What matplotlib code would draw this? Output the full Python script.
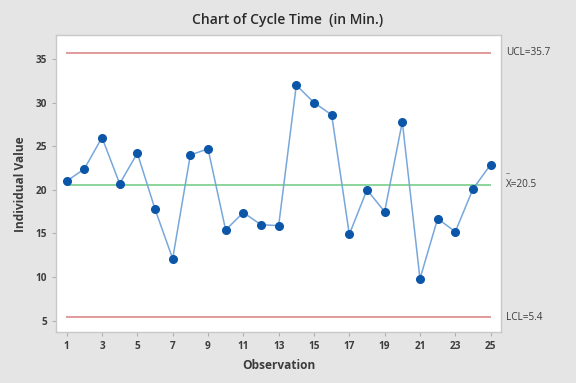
import numpy as np
import matplotlib.pyplot as plt
from matplotlib.transforms import blended_transform_factory

"DATA"
observation = np.arange(1, 26)
cycle_time = [21.0, 22.4, 26.0, 20.7, 24.2, 17.8, 12.1, 24.0, 24.7, 15.4,
              17.4, 16.0, 15.9, 32.0, 30.0, 28.6, 14.9, 20.0, 17.5, 27.8,
              9.8, 16.7, 15.2, 20.1, 22.9]
ucl = 35.7
mean = 20.5
lcl = 5.4
x_ticks = list(range(1, 26, 2))
y_ticks = [5, 10, 15, 20, 25, 30, 35]

plt.rcParams['font.family'] = ['Open Sans', 'DejaVu Sans']

bg = '#e5e5e5'
txt = '#3c3c3c'

fig = plt.figure(figsize=(5.76, 3.83), dpi=100, facecolor=bg)
ax = fig.add_axes([0.0972, 0.1324, 0.773, 0.7755])
ax.set_facecolor('white')

ax.axhline(ucl, xmin=0.025, xmax=0.975, color='#e29a9a', lw=1.4)
ax.axhline(lcl, xmin=0.025, xmax=0.975, color='#e29a9a', lw=1.4)
ax.axhline(mean, xmin=0.025, xmax=0.975, color='#8cd49c', lw=1.4)

ax.plot(observation, cycle_time, '-', color='#78a7db', lw=1.1, zorder=3)
ax.plot(observation, cycle_time, 'o', color='#0b56a8', ms=5.5, zorder=4)

ax.set_xlim(0.395, 25.6)
ax.set_ylim(3.67, 37.72)
ax.set_xticks(x_ticks)
ax.set_yticks(y_ticks)
ax.tick_params(axis='both', colors='#b0b0b0', labelcolor=txt, labelsize=7.2,
               length=3, width=0.8, direction='out')
for lab in ax.get_xticklabels() + ax.get_yticklabels():
    lab.set_fontweight('bold')

for side in ['top', 'right', 'left', 'bottom']:
    ax.spines[side].set_color('#c8c8c8')
    ax.spines[side].set_linewidth(1.0)

tr = blended_transform_factory(ax.transAxes, ax.transData)
ax.text(1.01, ucl, 'UCL=35.7', transform=tr, fontsize=7.2, color=txt, va='center')
ax.text(1.01, lcl, 'LCL=5.4', transform=tr, fontsize=7.2, color=txt, va='center')
ax.text(1.01, mean + 0.1, 'X=20.5', transform=tr, fontsize=7.2, color=txt, va='center')
ax.text(1.011, mean + 1.4, '–', transform=tr, fontsize=6, color=txt, va='center')

ax.set_xlabel('Observation', fontsize=8.6, fontweight='bold', color=txt, labelpad=5)
ax.set_ylabel('Individual Value', fontsize=8.6, fontweight='bold', color=txt, labelpad=6)
fig.text(0.5, 0.948, 'Chart of Cycle Time  (in Min.)', ha='center', va='center',
         fontsize=10, fontweight='semibold', color='#2a2a2a')

fig.savefig('out.png', dpi=100, facecolor=bg)
